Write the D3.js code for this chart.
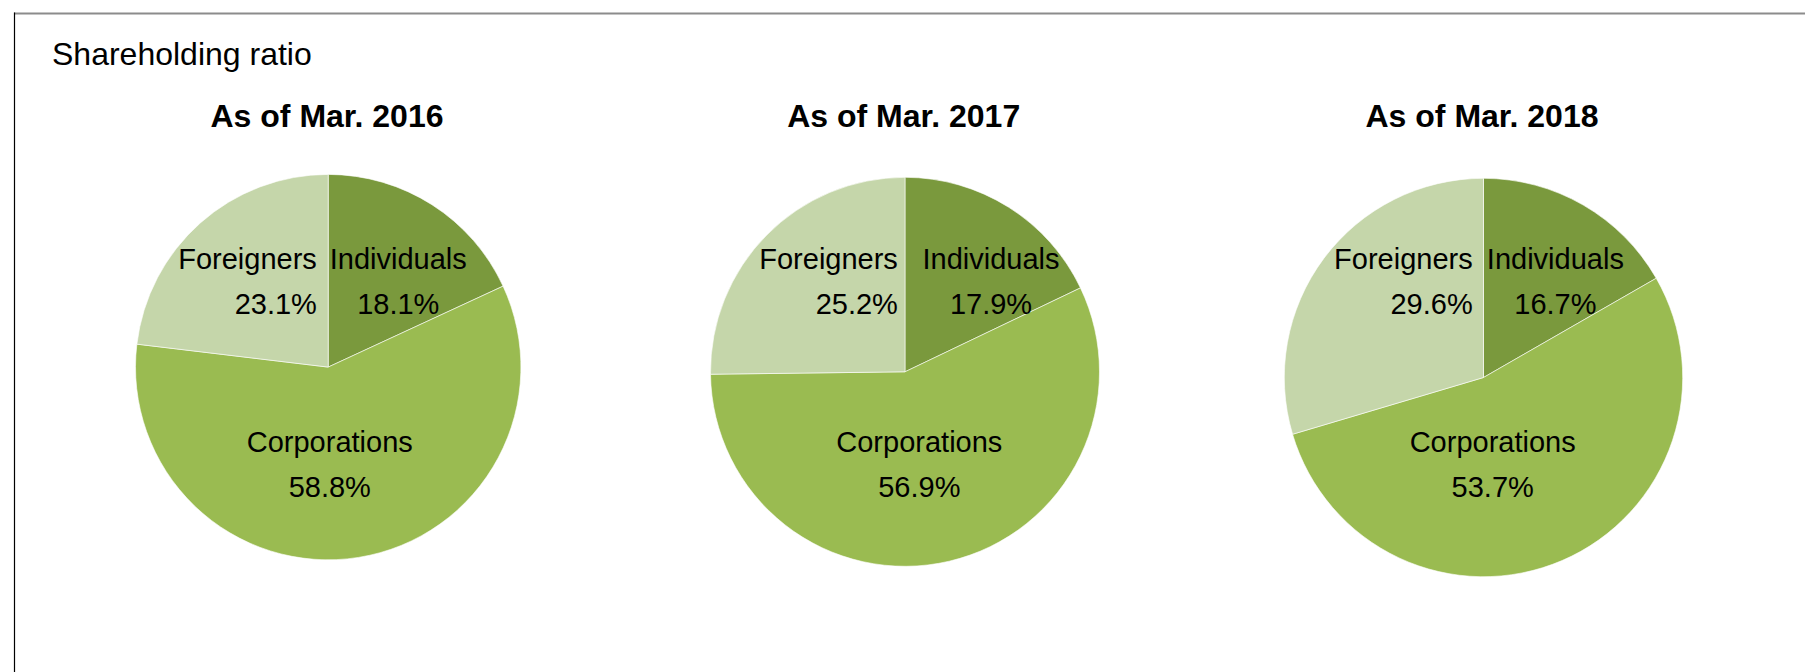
<!DOCTYPE html>
<html>
<head>
<meta charset="utf-8">
<script src="https://cdn.jsdelivr.net/npm/d3@7"></script>
<style>
  html, body { margin: 0; padding: 0; background: #fff; }
  svg { display: block; font-family: "Liberation Sans", Arial, Helvetica, sans-serif; }
</style>
</head>
<body>
<svg id="chart" width="1805" height="672"></svg>
<script>
// ---- data ----
const chartTitle = "Shareholding ratio";
const periods = ["As of Mar. 2016", "As of Mar. 2017", "As of Mar. 2018"];
const categories = ["Individuals", "Corporations", "Foreigners"];
const individuals = [18.1, 17.9, 16.7];
const corporations = [58.8, 56.9, 53.7];
const foreigners = [23.1, 25.2, 29.6];

// ---- layout / style (kept apart from data) ----
const W = 1805, H = 672;
const colors = { Individuals: "#7A993D", Corporations: "#9ABB51", Foreigners: "#C5D6AA" };
const pieLayout = [
  { cx: 328.2, cy: 367.1, r: 192.7 },
  { cx: 905.0, cy: 371.8, r: 194.5 },
  { cx: 1483.5, cy: 377.5, r: 199.2 }
];
const titleX = [327, 903.7, 1482];
const labelAnchor = { Individuals: "middle", Corporations: "middle", Foreigners: "end" };
// manual data-label nudges from slice centroid (like dragged Excel labels)
const labelNudge = [
  { Individuals: [13, -9], Corporations: [-15, -20], Foreigners: [59, -19] },
  { Individuals: [29, -12], Corporations: [-10, -24], Foreigners: [69, -28] },
  { Individuals: [17, -14], Corporations: [-34, -26], Foreigners: [77, -43] }
];

const svg = d3.select("#chart");

// frame
svg.append("line").attr("x1", 14).attr("x2", W).attr("y1", 13.5).attr("y2", 13.5)
  .attr("stroke", "#8c8c8c").attr("stroke-width", 2);
svg.append("line").attr("x1", 14.5).attr("x2", 14.5).attr("y1", 12.5).attr("y2", H)
  .attr("stroke", "#000").attr("stroke-width", 1.2);

svg.append("text").attr("x", 52).attr("y", 65)
  .attr("font-size", 32).attr("fill", "#000").text(chartTitle);

const pie = d3.pie().sort(null).value(d => d.value);

periods.forEach((p, i) => {
  const L = pieLayout[i];
  const data = categories.map(name => ({
    name,
    value: name === "Individuals" ? individuals[i] : name === "Corporations" ? corporations[i] : foreigners[i]
  }));
  const arcs = pie(data);
  const arc = d3.arc().innerRadius(0).outerRadius(L.r);
  const labelArc = d3.arc().innerRadius(L.r * 0.55).outerRadius(L.r * 0.55);

  svg.append("text").attr("x", titleX[i]).attr("y", 127)
    .attr("text-anchor", "middle").attr("font-size", 32).attr("font-weight", "bold")
    .attr("fill", "#000").text(p);

  const g = svg.append("g").attr("transform", `translate(${L.cx},${L.cy})`);
  g.selectAll("path").data(arcs).join("path")
    .attr("d", arc)
    .attr("fill", d => colors[d.data.name])
    .attr("stroke", "#fff").attr("stroke-width", 0.6);

  const lbl = g.selectAll("text.lbl").data(arcs).join("text")
    .attr("class", "lbl")
    .attr("font-size", 29).attr("fill", "#000")
    .attr("text-anchor", d => labelAnchor[d.data.name])
    .attr("transform", d => {
      const c = labelArc.centroid(d);
      const n = labelNudge[i][d.data.name];
      return `translate(${c[0] + n[0]},${c[1] + n[1]})`;
    });
  lbl.append("tspan").attr("x", 0).attr("y", 0).text(d => d.data.name);
  lbl.append("tspan").attr("x", 0).attr("y", 45).text(d => d.data.value.toFixed(1) + "%");
});
</script>
</body>
</html>
